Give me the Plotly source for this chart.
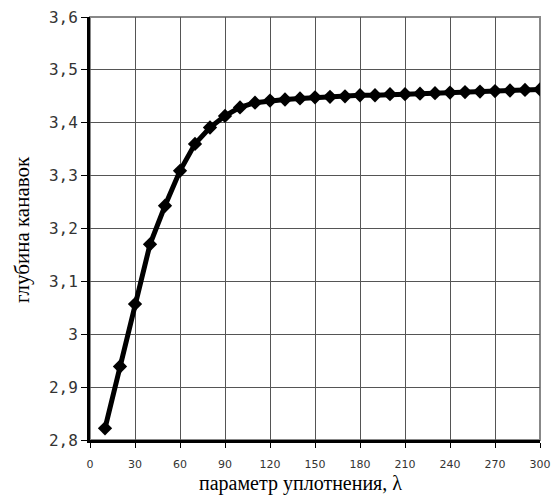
import plotly.graph_objects as go

lam = [10, 20, 30, 40, 50, 60, 70, 80, 90, 100, 110, 120, 130, 140, 150,
       160, 170, 180, 190, 200, 210, 220, 230, 240, 250, 260, 270, 280, 290, 300]
depth = [2.822, 2.939, 3.057, 3.170, 3.243, 3.309, 3.360, 3.391, 3.413, 3.429,
         3.438, 3.442, 3.444, 3.446, 3.448, 3.449, 3.450, 3.452, 3.452, 3.454,
         3.454, 3.455, 3.456, 3.457, 3.458, 3.459, 3.460, 3.461, 3.462, 3.463]

x_ticks = [0, 30, 60, 90, 120, 150, 180, 210, 240, 270, 300]
y_ticks = [2.8, 2.9, 3.0, 3.1, 3.2, 3.3, 3.4, 3.5, 3.6]
y_labels = ["2,8", "2,9", "3", "3,1", "3,2", "3,3", "3,4", "3,5", "3,6"]

W, H = 555, 497
L, R, T, B = 90, 15, 17, 57

fig = go.Figure()
fig.add_trace(go.Scatter(
    x=lam, y=depth, mode="lines+markers",
    line=dict(color="black", width=5),
    marker=dict(symbol="diamond", size=11, color="black"),
    showlegend=False,
))

pw = W - L - R
ph = H - T - B
title_font = dict(family="Liberation Serif", size=20, color="black")

fig.update_layout(
    width=W, height=H,
    margin=dict(l=L, r=R, t=T, b=B, autoexpand=False),
    paper_bgcolor="white", plot_bgcolor="white",
    shapes=[dict(type="rect", xref="paper", yref="paper", x0=0, y0=0, x1=1, y1=1,
                 line=dict(color="#888888", width=2), layer="below")],
    annotations=[
        dict(text="параметр уплотнения, λ", xref="paper", yref="paper",
             x=(300 - L) / pw, y=-(484 - (T + ph)) / ph, showarrow=False,
             xanchor="center", yanchor="middle", font=title_font),
        dict(text="глубина канавок", xref="paper", yref="paper",
             x=-(L - 22) / pw, y=(T + ph - 230) / ph, showarrow=False,
             textangle=-90, xanchor="center", yanchor="middle",
             font=dict(family="Liberation Serif", size=21, color="black")),
    ],
)
fig.update_xaxes(
    range=[0, 300], tickvals=x_ticks, ticktext=[str(v) for v in x_ticks],
    showgrid=True, gridcolor="#555555", gridwidth=1,
    showline=True, linecolor="black", linewidth=3,
    ticks="outside", ticklen=5, tickcolor="black", tickwidth=1,
    ticklabelstandoff=7, automargin=False,
    tickfont=dict(family="DejaVu Sans", size=11, color="#333333"),
    zeroline=False,
)
fig.update_yaxes(
    range=[2.8, 3.6], tickvals=y_ticks, ticktext=y_labels,
    showgrid=True, gridcolor="#555555", gridwidth=1,
    showline=True, linecolor="black", linewidth=3,
    ticks="outside", ticklen=6, tickcolor="black", tickwidth=1,
    automargin=False,
    tickfont=dict(family="DejaVu Sans Mono", size=16, color="#333333"),
    zeroline=False,
)

fig.write_html("out.html")
